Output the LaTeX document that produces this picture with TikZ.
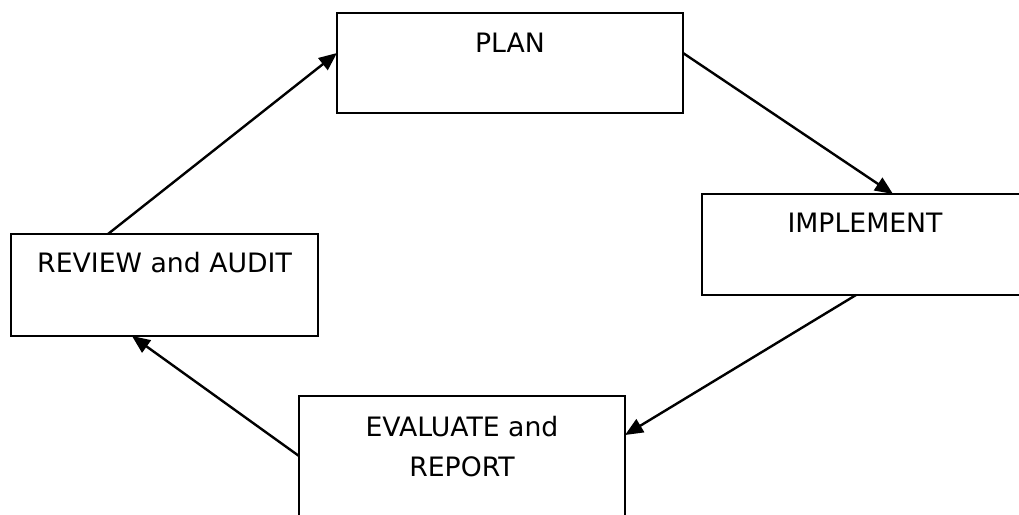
\documentclass[tikz,border=0pt]{standalone}
\usepackage{fontspec}
\setmainfont{DejaVu Sans}
\usetikzlibrary{arrows.meta,calc}
\begin{document}
\begin{tikzpicture}[x=1pt,y=-1pt,
  stage/.style={draw, line width=2.2pt, rectangle, anchor=north west,
    inner sep=0pt, outer sep=0pt},
  caption/.style={anchor=center, align=center,
    font=\fontsize{26.7}{40}\selectfont},
  flow/.style={line width=2.4pt, -{Triangle[length=18pt,width=15pt]}}]
  \useasboundingbox (0,0) rectangle (1019,514);
  \clip (0,0) rectangle (1019,514);

  % the four stages of the cycle
  \node[stage, minimum width=346pt, minimum height=100pt,
    label={[caption, yshift=-30pt]north:PLAN}] (plan) at (337,13) {};
  \node[stage, minimum width=326pt, minimum height=101pt,
    label={[caption, yshift=-29pt]north:IMPLEMENT}] (impl) at (702,194) {};
  \node[stage, minimum width=326pt, minimum height=140pt,
    label={[caption, yshift=-51pt]north:EVALUATE and\\REPORT}] (eval) at (299,396) {};
  \node[stage, minimum width=307pt, minimum height=102pt,
    label={[caption, yshift=-29pt]north:REVIEW and AUDIT}] (review) at (11,234) {};

  % connectors running clockwise
  \draw[flow] ($(plan.north east)+(0,40)$) -- ($(impl.north west)+(191,0)$);
  \draw[flow] ($(impl.south west)+(154,0)$) -- ($(eval.north east)+(0,39)$);
  \draw[flow] ($(eval.north west)+(0,60)$) -- ($(review.south west)+(121,0)$);
  \draw[flow] ($(review.north west)+(97,0)$) -- ($(plan.north west)+(0,40)$);
\end{tikzpicture}
\end{document}
